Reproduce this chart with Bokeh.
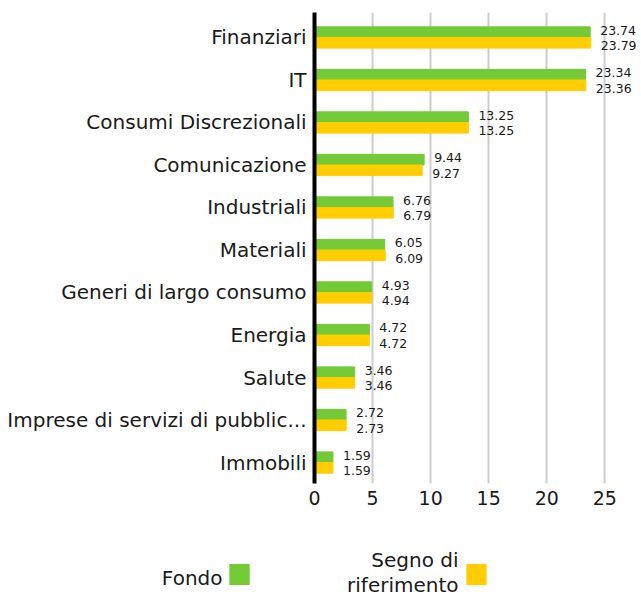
from bokeh.plotting import figure
from bokeh.models import ColumnDataSource, Range1d, FixedTicker, Label
from bokeh.transform import dodge
from bokeh.embed import file_html
from bokeh.resources import INLINE
from bokeh.core.properties import value

categories = ["Finanziari", "IT", "Consumi Discrezionali", "Comunicazione", "Industriali",
              "Materiali", "Generi di largo consumo", "Energia", "Salute",
              "Imprese di servizi di pubblic...", "Immobili"]
fondo = [23.74, 23.34, 13.25, 9.44, 6.76, 6.05, 4.93, 4.72, 3.46, 2.72, 1.59]
bench = [23.79, 23.36, 13.25, 9.27, 6.79, 6.09, 4.94, 4.72, 3.46, 2.73, 1.59]
x_ticks = [0, 5, 10, 15, 20, 25]
series_names = ["Fondo", "Segno di", "riferimento"]

GREEN = "#73c936"
YELLOW = "#ffcd00"
FONT = "DejaVu Sans"
TXT = "#1a1a1a"

idx = list(range(len(categories)))
src = ColumnDataSource(dict(
    y=idx, fondo=fondo, bench=bench,
    fondo_lbl=[f"{v:.2f}" for v in fondo],
    bench_lbl=[f"{v:.2f}" for v in bench],
))

p = figure(width=640, height=596, output_backend="svg", toolbar_location=None,
           x_range=Range1d(0, 28.07), y_range=Range1d(10.494, -0.588),
           min_border_left=314, min_border_right=0, min_border_top=12, min_border_bottom=113)
p.outline_line_color = None

p.hbar(y=dodge("y", -0.125, range=p.y_range), right="fondo", left=0, height=0.25,
       source=src, color=GREEN)
p.hbar(y=dodge("y", 0.125, range=p.y_range), right="bench", left=0, height=0.25,
       source=src, color=YELLOW)

p.text(x="fondo", y=dodge("y", -0.176, range=p.y_range), text="fondo_lbl", source=src,
       x_offset=10, text_baseline="middle", text_align="left",
       text_font=value(FONT), text_font_size="12.5px", text_color=TXT)
p.text(x="bench", y=dodge("y", 0.19, range=p.y_range), text="bench_lbl", source=src,
       x_offset=10, text_baseline="middle", text_align="left",
       text_font=value(FONT), text_font_size="12.5px", text_color=TXT)

p.ygrid.visible = False
p.xgrid.grid_line_color = "#cccccc"
p.xgrid.grid_line_width = 2
p.xaxis.ticker = FixedTicker(ticks=x_ticks)
p.xaxis.axis_line_color = None
p.xaxis.major_tick_line_color = None
p.xaxis.major_tick_out = 0
p.xaxis.minor_tick_line_color = None
p.xaxis.minor_tick_out = 0
p.xaxis.major_label_standoff = 7
p.xaxis.major_label_text_font = FONT
p.xaxis.major_label_text_font_size = "19px"
p.xaxis.major_label_text_color = TXT

p.yaxis.ticker = FixedTicker(ticks=idx)
p.yaxis.major_label_overrides = {i: c for i, c in zip(idx, categories)}
p.yaxis.axis_line_color = "black"
p.yaxis.axis_line_width = 4
p.yaxis.major_tick_line_color = None
p.yaxis.major_tick_out = 0
p.yaxis.minor_tick_line_color = None
p.yaxis.minor_tick_out = 0
p.yaxis.major_label_standoff = 8
p.yaxis.major_label_text_font = FONT
p.yaxis.major_label_text_font_size = "20px"
p.yaxis.major_label_text_color = TXT

# legend: labels in the panel below the x axis (screen units, relative to that panel)
for name, x, y in zip(series_names, [-92, 144, 144], [-46, -4, -5]):
    p.add_layout(Label(x=x, y=y, x_units="screen", y_units="screen", text=name,
                       text_align="right", text_baseline="middle",
                       text_font=FONT, text_font_size="20px", text_color=TXT), "below")
# colour swatches: a tiny text box drawn with a thick square border
for col, x, y in zip([GREEN, YELLOW], [-75, 162], [6, 7]):
    p.add_layout(Label(x=x, y=y, x_units="screen", y_units="screen", text=" ",
                       text_font_size="1px", padding=0,
                       text_align="center", text_baseline="middle",
                       background_fill_color=col, background_fill_alpha=1.0,
                       border_line_color=col, border_line_width=20,
                       border_line_join="miter"), "below")

open("out.html", "w").write(file_html(p, INLINE))
